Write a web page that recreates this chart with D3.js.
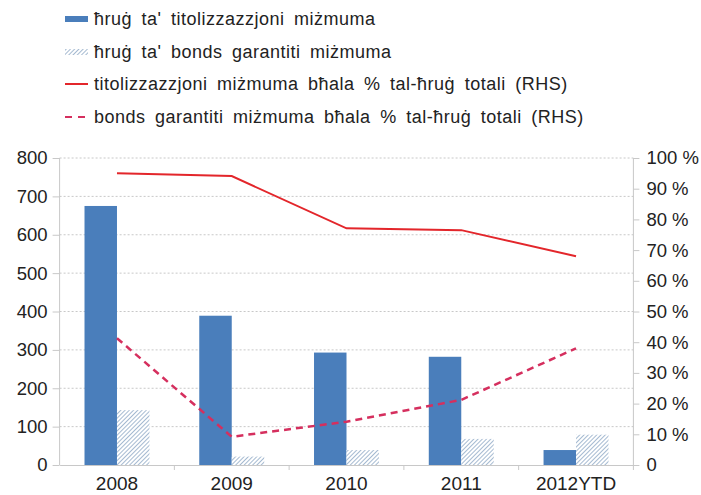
<!DOCTYPE html>
<meta charset="utf-8">
<script src="https://d3js.org/d3.v7.min.js"></script>
<style>
  body { margin: 0; background: #fff; }
  text { font-family: "Liberation Sans", Arial, sans-serif; fill: #222; }
</style>
<svg id="chart"></svg>
<script>
// data
var years = ["2008", "2009", "2010", "2011", "2012YTD"];
var securitised = [675, 389, 293, 282, 39];       // LHS bars, solid blue
var bonds = [143, 22, 39, 68, 79];                 // LHS bars, hatched
var securitisedPct = [95, 94.1, 77.1, 76.5, 68];   // RHS solid red line
var bondsPct = [41.3, 9.2, 14.1, 21.2, 38];        // RHS dashed line
var leftTicks = [0, 100, 200, 300, 400, 500, 600, 700, 800];
var rightTicks = [0, 10, 20, 30, 40, 50, 60, 70, 80, 90, 100];
var legendLabels = [
  "ħruġ ta' titolizzazzjoni miżmuma",
  "ħruġ ta' bonds garantiti miżmuma",
  "titolizzazzjoni miżmuma bħala % tal-ħruġ totali (RHS)",
  "bonds garantiti miżmuma bħala % tal-ħruġ totali (RHS)"
];

var width = 701, height = 495;
var svg = d3.select("#chart").attr("width", width).attr("height", height);

var plotLeft = 59.6, plotRight = 633.4, plotTop = 158, plotBottom = 465;

var x = d3.scaleBand().domain(years).range([plotLeft, plotRight]);
var yL = d3.scaleLinear().domain([0, 800]).range([plotBottom, plotTop]);
var yR = d3.scaleLinear().domain([0, 100]).range([plotBottom, plotTop]);

var blue = "#4a7ebb";
var red = "#e3262b";
var crimson = "#d52f5e";
var barW = x.bandwidth() * 0.283;

// hatch pattern for the bonds bars
var defs = svg.append("defs");
var pat = defs.append("pattern")
  .attr("id", "hatch")
  .attr("patternUnits", "userSpaceOnUse")
  .attr("width", 3).attr("height", 3)
  .attr("patternTransform", "rotate(45)");
pat.append("rect").attr("width", 3).attr("height", 3).attr("fill", "#fff");
pat.append("line")
  .attr("x1", 0).attr("y1", 0).attr("x2", 0).attr("y2", 3)
  .attr("stroke", "#8ea8c6").attr("stroke-width", 1.6);

// gridlines
svg.append("g")
  .selectAll("line")
  .data(leftTicks.filter(function (d) { return d > 0; }))
  .enter()
  .append("line")
  .attr("x1", plotLeft).attr("x2", plotRight)
  .attr("y1", function (d) { return yL(d); })
  .attr("y2", function (d) { return yL(d); })
  .attr("stroke", "#c8c8c8")
  .attr("stroke-dasharray", "2,2");

// axes
var axisL = svg.append("g")
  .attr("transform", "translate(" + plotLeft + ",0)")
  .call(d3.axisLeft(yL).tickValues(leftTicks).tickSize(7).tickPadding(5));
var axisR = svg.append("g")
  .attr("transform", "translate(" + plotRight + ",0)")
  .call(d3.axisRight(yR).tickValues(rightTicks).tickSize(6).tickPadding(7)
    .tickFormat(function (d) { return d === 0 ? "0" : d + " %"; }));
var axisB = svg.append("g")
  .attr("transform", "translate(0," + plotBottom + ")")
  .call(d3.axisBottom(x).tickSize(0).tickPadding(12));

// category boundary ticks on the x axis
svg.append("g")
  .selectAll("line")
  .data(years)
  .enter()
  .append("line")
  .attr("x1", function (d) { return x(d) + x.step(); })
  .attr("x2", function (d) { return x(d) + x.step(); })
  .attr("y1", plotBottom).attr("y2", plotBottom + 5)
  .attr("stroke", "#c8c8c8");

[axisL, axisR, axisB].forEach(function (a) {
  a.selectAll(".domain").attr("stroke", "#c8c8c8");
  a.selectAll(".tick line").attr("stroke", "#c8c8c8");
  a.selectAll("text")
    .style("font-family", "'Liberation Sans', Arial, sans-serif")
    .style("font-size", "18.5px")
    .attr("fill", "#222");
});
axisB.selectAll("text").style("font-size", "19px");
axisL.select(".domain").attr("d", "M0," + plotBottom + "V" + plotTop);
axisR.select(".domain").attr("d", "M0," + plotBottom + "V" + plotTop);

// bars
function cx(d) { return x(d) + x.bandwidth() / 2; }

svg.append("g")
  .selectAll("rect")
  .data(years)
  .enter()
  .append("rect")
  .attr("x", function (d) { return cx(d) - barW; })
  .attr("y", function (d, i) { return yL(securitised[i]); })
  .attr("width", barW)
  .attr("height", function (d, i) { return plotBottom - yL(securitised[i]); })
  .attr("fill", blue);

svg.append("g")
  .selectAll("rect")
  .data(years)
  .enter()
  .append("rect")
  .attr("x", function (d) { return cx(d); })
  .attr("y", function (d, i) { return yL(bonds[i]); })
  .attr("width", barW)
  .attr("height", function (d, i) { return plotBottom - yL(bonds[i]); })
  .attr("fill", "url(#hatch)");

// lines on the right axis
var line = d3.line()
  .x(function (d, i) { return cx(years[i]); })
  .y(function (d) { return yR(d); });

svg.append("path")
  .datum(securitisedPct)
  .attr("d", line)
  .attr("fill", "none")
  .attr("stroke", red)
  .attr("stroke-width", 2);

svg.append("path")
  .datum(bondsPct)
  .attr("d", line)
  .attr("fill", "none")
  .attr("stroke", crimson)
  .attr("stroke-width", 2.5)
  .attr("stroke-dasharray", "7,5");

// legend
var legY = [19, 52, 84, 117];
var leg = svg.append("g");
legendLabels.forEach(function (lab, i) {
  var y = legY[i];
  if (i === 0) {
    leg.append("rect").attr("x", 65).attr("y", y - 3).attr("width", 23).attr("height", 6).attr("fill", blue);
  } else if (i === 1) {
    leg.append("rect").attr("x", 65).attr("y", y - 3).attr("width", 23).attr("height", 6).attr("fill", "url(#hatch)");
  } else {
    leg.append("line")
      .attr("x1", 65).attr("x2", i === 2 ? 88 : 86)
      .attr("y1", y).attr("y2", y)
      .attr("stroke", i === 2 ? red : crimson)
      .attr("stroke-width", 2)
      .attr("stroke-dasharray", i === 2 ? null : "7,6");
  }
  leg.append("text")
    .attr("x", 94).attr("y", y)
    .attr("dy", "0.35em")
    .style("font-size", "18px")
    .style("letter-spacing", "0.5px")
    .style("word-spacing", "4px")
    .text(lab);
});
</script>
